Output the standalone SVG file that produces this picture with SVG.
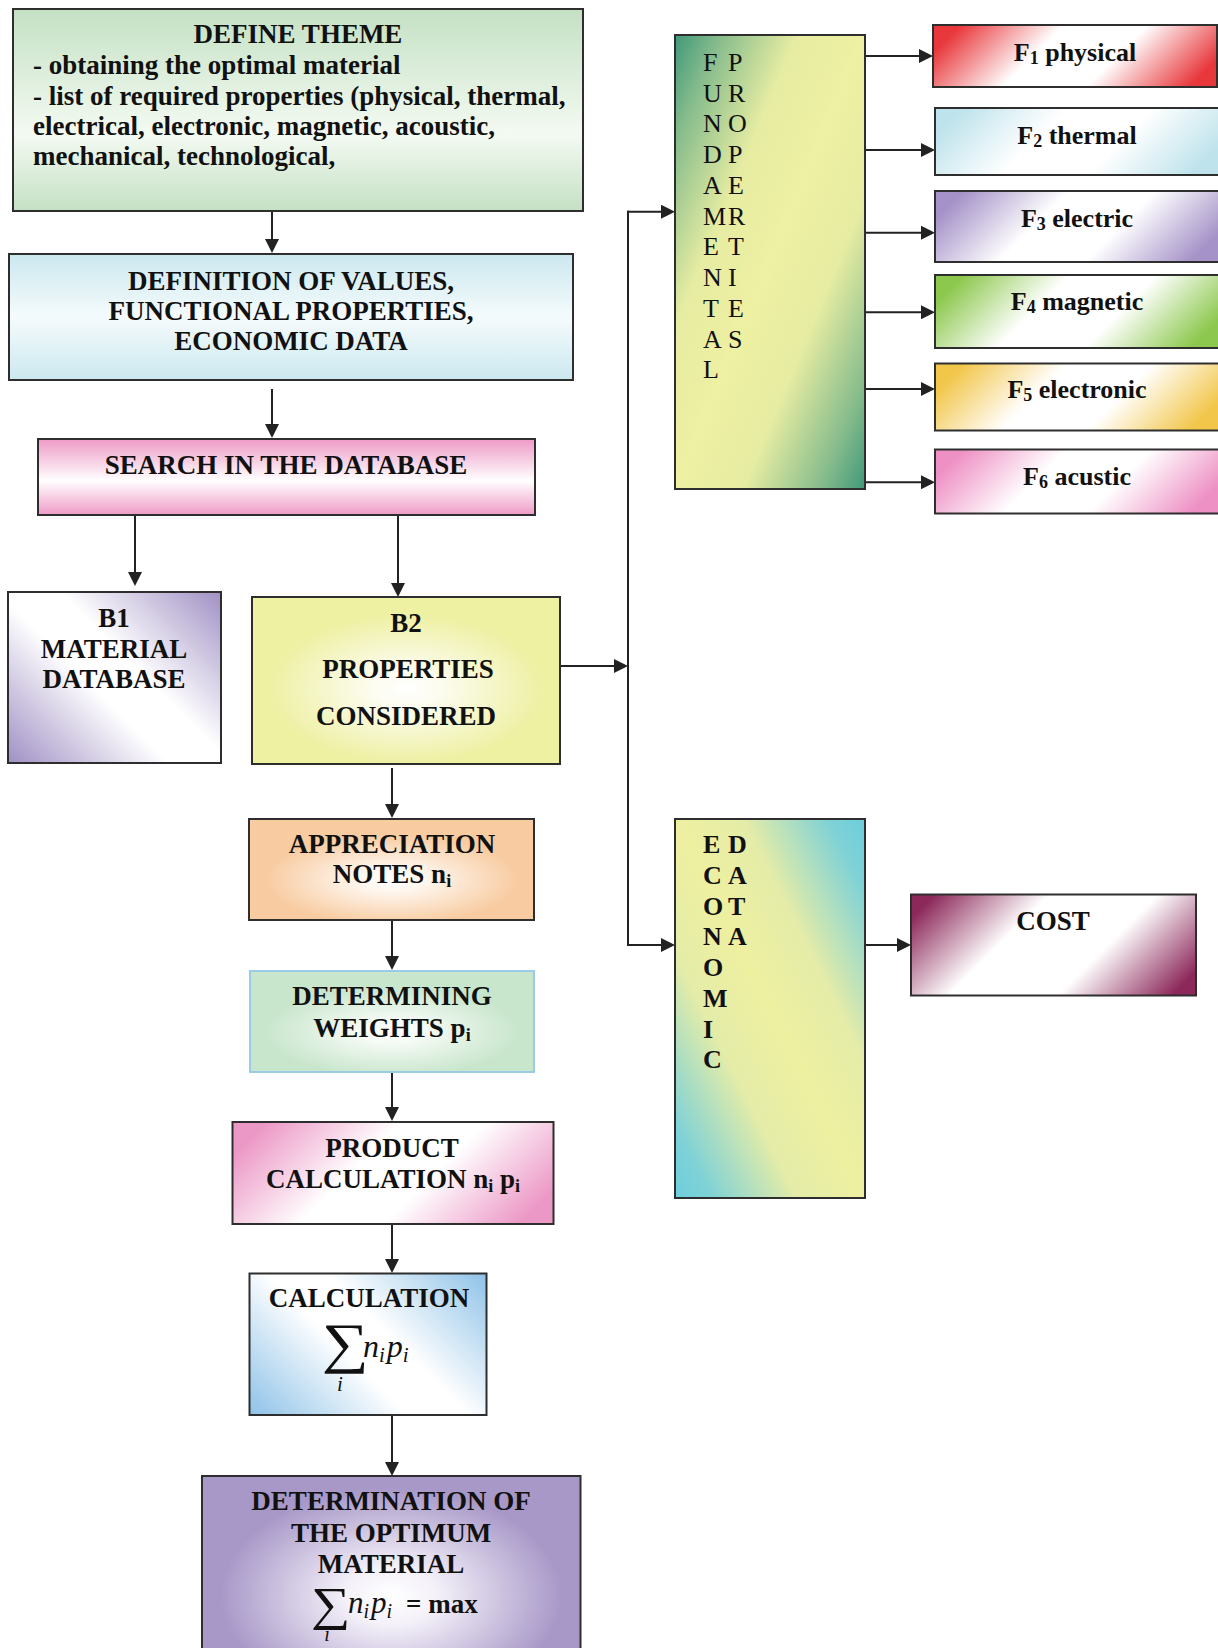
<svg xmlns="http://www.w3.org/2000/svg" width="1218" height="1648" viewBox="0 0 1218 1648">
<style>
.box{stroke:#2e2e2e;stroke-width:2}
.t{font-family:"Liberation Serif","Times New Roman",serif;font-weight:bold;font-size:27px;fill:#111}
.f26{font-size:26px}
.m{text-anchor:middle}
.r{font-weight:normal}
.it{font-family:"Liberation Serif","Times New Roman",serif;font-style:italic;font-weight:normal;fill:#111}
.sg{font-family:"Liberation Serif","DejaVu Serif",serif;font-weight:normal;fill:#111}
.sub{font-size:18px}
.conn path{stroke:#222;stroke-width:2;fill:none}
.arr{marker-end:url(#ah)}
</style>
<defs>
<marker id="ah" viewBox="0 0 14 14" refX="10" refY="7" markerWidth="14" markerHeight="14" markerUnits="userSpaceOnUse" orient="auto"><path d="M0,0 L14,7 L0,14 z" fill="#222"/></marker>
<linearGradient id="gDefine" x1="0" y1="0" x2="0" y2="1"><stop offset="0" stop-color="#c4e1c4"/><stop offset="0.62" stop-color="#f4faf2"/><stop offset="1" stop-color="#c4e1c4"/></linearGradient>
<linearGradient id="gValues" x1="0" y1="0" x2="0" y2="1"><stop offset="0" stop-color="#cbe8ef"/><stop offset="0.5" stop-color="#f5fbfc"/><stop offset="1" stop-color="#cbe8ef"/></linearGradient>
<linearGradient id="gSearch" x1="0" y1="0" x2="0" y2="1"><stop offset="0" stop-color="#ee9ac6"/><stop offset="0.55" stop-color="#ffffff"/><stop offset="1" stop-color="#ee9ac6"/></linearGradient>
<linearGradient id="gB1" gradientUnits="userSpaceOnUse" x1="221" y1="592" x2="29" y2="784"><stop offset="0" stop-color="#a090c4"/><stop offset="0.42" stop-color="#ffffff"/><stop offset="0.58" stop-color="#ffffff"/><stop offset="1" stop-color="#a090c4"/></linearGradient>
<radialGradient id="gB2" cx="0.5" cy="0.55" r="0.6"><stop offset="0" stop-color="#ffffff"/><stop offset="0.2" stop-color="#fcfcee"/><stop offset="0.75" stop-color="#eef0a2"/><stop offset="1" stop-color="#eef0a2"/></radialGradient>
<radialGradient id="gAppr" cx="0.5" cy="0.6" r="0.6"><stop offset="0" stop-color="#ffffff"/><stop offset="0.2" stop-color="#fef6ee"/><stop offset="0.75" stop-color="#f8cba0"/><stop offset="1" stop-color="#f8cba0"/></radialGradient>
<radialGradient id="gWeights" cx="0.5" cy="0.6" r="0.6"><stop offset="0" stop-color="#ffffff"/><stop offset="0.2" stop-color="#f4faf4"/><stop offset="0.75" stop-color="#c8e6cc"/><stop offset="1" stop-color="#c8e6cc"/></radialGradient>
<linearGradient id="gProd" gradientUnits="userSpaceOnUse" x1="232.5" y1="1122" x2="444" y2="1333.5"><stop offset="0" stop-color="#ec98c6"/><stop offset="0.08" stop-color="#ec98c6"/><stop offset="0.4" stop-color="#ffffff"/><stop offset="0.6" stop-color="#ffffff"/><stop offset="0.92" stop-color="#ec98c6"/><stop offset="1" stop-color="#ec98c6"/></linearGradient>
<linearGradient id="gCalc" gradientUnits="userSpaceOnUse" x1="486.5" y1="1273.5" x2="297.25" y2="1462.75"><stop offset="0" stop-color="#8ec2e8"/><stop offset="0.42" stop-color="#ffffff"/><stop offset="0.58" stop-color="#ffffff"/><stop offset="1" stop-color="#8ec2e8"/></linearGradient>
<radialGradient id="gOpt" cx="0.5" cy="0.5" r="0.6"><stop offset="0" stop-color="#ffffff"/><stop offset="0.2" stop-color="#f4f1f9"/><stop offset="0.75" stop-color="#a898c8"/><stop offset="1" stop-color="#a898c8"/></radialGradient>
<linearGradient id="gFund" x1="0" y1="0" x2="1" y2="1"><stop offset="0" stop-color="#40987a"/><stop offset="0.12" stop-color="#86bc8c"/><stop offset="0.32" stop-color="#e6eca2"/><stop offset="0.5" stop-color="#eef0a2"/><stop offset="0.68" stop-color="#e6eca2"/><stop offset="0.88" stop-color="#86bc8c"/><stop offset="1" stop-color="#40987a"/></linearGradient>
<linearGradient id="gEcon" x1="1" y1="0" x2="0" y2="1"><stop offset="0" stop-color="#6ccedc"/><stop offset="0.1" stop-color="#80d2d6"/><stop offset="0.32" stop-color="#e4eca8"/><stop offset="0.5" stop-color="#eef0a0"/><stop offset="0.68" stop-color="#e4eca8"/><stop offset="0.9" stop-color="#80d2d6"/><stop offset="1" stop-color="#6ccedc"/></linearGradient>
<linearGradient id="gF1" gradientUnits="userSpaceOnUse" x1="933" y1="25" x2="1106" y2="198"><stop offset="0" stop-color="#e8383c"/><stop offset="0.08" stop-color="#e8383c"/><stop offset="0.38" stop-color="#ffffff"/><stop offset="0.62" stop-color="#ffffff"/><stop offset="0.92" stop-color="#e8383c"/><stop offset="1" stop-color="#e8383c"/></linearGradient>
<linearGradient id="gF2" gradientUnits="userSpaceOnUse" x1="935" y1="108" x2="1110.5" y2="283.5"><stop offset="0" stop-color="#bfe3ec"/><stop offset="0.08" stop-color="#bfe3ec"/><stop offset="0.38" stop-color="#ffffff"/><stop offset="0.62" stop-color="#ffffff"/><stop offset="0.92" stop-color="#bfe3ec"/><stop offset="1" stop-color="#bfe3ec"/></linearGradient>
<linearGradient id="gF3" gradientUnits="userSpaceOnUse" x1="935" y1="191" x2="1112.5" y2="368.5"><stop offset="0" stop-color="#a592c8"/><stop offset="0.08" stop-color="#a592c8"/><stop offset="0.38" stop-color="#ffffff"/><stop offset="0.62" stop-color="#ffffff"/><stop offset="0.92" stop-color="#a592c8"/><stop offset="1" stop-color="#a592c8"/></linearGradient>
<linearGradient id="gF4" gradientUnits="userSpaceOnUse" x1="935" y1="275" x2="1113.5" y2="453.5"><stop offset="0" stop-color="#8dc84e"/><stop offset="0.08" stop-color="#8dc84e"/><stop offset="0.38" stop-color="#ffffff"/><stop offset="0.62" stop-color="#ffffff"/><stop offset="0.92" stop-color="#8dc84e"/><stop offset="1" stop-color="#8dc84e"/></linearGradient>
<linearGradient id="gF5" gradientUnits="userSpaceOnUse" x1="935" y1="363.5" x2="1110.5" y2="539"><stop offset="0" stop-color="#f2c64a"/><stop offset="0.08" stop-color="#f2c64a"/><stop offset="0.38" stop-color="#ffffff"/><stop offset="0.62" stop-color="#ffffff"/><stop offset="0.92" stop-color="#f2c64a"/><stop offset="1" stop-color="#f2c64a"/></linearGradient>
<linearGradient id="gF6" gradientUnits="userSpaceOnUse" x1="935" y1="449.5" x2="1109" y2="623.5"><stop offset="0" stop-color="#ee90c4"/><stop offset="0.08" stop-color="#ee90c4"/><stop offset="0.38" stop-color="#ffffff"/><stop offset="0.62" stop-color="#ffffff"/><stop offset="0.92" stop-color="#ee90c4"/><stop offset="1" stop-color="#ee90c4"/></linearGradient>
<linearGradient id="gCost" gradientUnits="userSpaceOnUse" x1="911" y1="894.5" x2="1104" y2="1087.5"><stop offset="0" stop-color="#8c285a"/><stop offset="0.06" stop-color="#8c285a"/><stop offset="0.36" stop-color="#ffffff"/><stop offset="0.64" stop-color="#ffffff"/><stop offset="0.94" stop-color="#8c285a"/><stop offset="1" stop-color="#8c285a"/></linearGradient>
</defs>

<g id="connectors" class="conn">
<path class="arr" d="M272,212 V249"/>
<path class="arr" d="M272,389 V434"/>
<path class="arr" d="M135,516 V582"/>
<path class="arr" d="M398,516 V593"/>
<path class="arr" d="M559,666 H624"/>
<path d="M628,210.7 V946"/>
<path class="arr" d="M627,211.7 H671"/>
<path class="arr" d="M627,945 H671"/>
<path class="arr" d="M866,56 H929"/>
<path class="arr" d="M866,150 H931"/>
<path class="arr" d="M866,232.7 H931"/>
<path class="arr" d="M866,312.3 H931"/>
<path class="arr" d="M866,389 H931"/>
<path class="arr" d="M866,482.3 H931"/>
<path class="arr" d="M866,945 H907"/>
<path class="arr" d="M392,768 V814"/>
<path class="arr" d="M392,921 V966"/>
<path class="arr" d="M392,1073 V1117"/>
<path class="arr" d="M392,1225 V1269"/>
<path class="arr" d="M392,1400 V1472"/>
</g>

<g id="define-theme">
<rect class="box" x="13" y="9" width="570" height="202" fill="url(#gDefine)"/>
<text class="t m" x="298" y="43">DEFINE THEME</text>
<text class="t" x="33" y="74">- obtaining the optimal material</text>
<text class="t" x="33" y="105">- list of required properties (physical, thermal,</text>
<text class="t" x="33" y="135">electrical, electronic, magnetic, acoustic,</text>
<text class="t" x="33" y="165">mechanical, technological,</text>
</g>

<g id="definition-values">
<rect class="box" x="9" y="254" width="564" height="126" fill="url(#gValues)"/>
<text class="t m" x="291" y="290">DEFINITION OF VALUES,</text>
<text class="t m" x="291" y="320">FUNCTIONAL PROPERTIES,</text>
<text class="t m" x="291" y="350">ECONOMIC DATA</text>
</g>

<g id="search-database">
<rect class="box" x="38" y="439" width="497" height="76" fill="url(#gSearch)"/>
<text class="t m" x="286" y="474">SEARCH IN THE DATABASE</text>
</g>

<g id="b1-material-database">
<rect class="box" x="8" y="592" width="213" height="171" fill="url(#gB1)"/>
<text class="t m" x="114" y="627">B1</text>
<text class="t m" x="114" y="658">MATERIAL</text>
<text class="t m" x="114" y="688">DATABASE</text>
</g>

<g id="b2-properties-considered">
<rect class="box" x="252" y="597" width="308" height="167" fill="url(#gB2)"/>
<text class="t m" x="406" y="632">B2</text>
<text class="t m" x="408" y="678">PROPERTIES</text>
<text class="t m" x="406" y="725">CONSIDERED</text>
</g>

<g id="fundamental-properties">
<rect class="box" x="675" y="35" width="190" height="454" fill="url(#gFund)"/>
<text class="t r f26" x="703"><tspan x="703" y="70.7">F</tspan><tspan x="703" y="101.5">U</tspan><tspan x="703" y="132.2">N</tspan><tspan x="703" y="163">D</tspan><tspan x="703" y="193.7">A</tspan><tspan x="703" y="224.5">M</tspan><tspan x="703" y="255.2">E</tspan><tspan x="703" y="286">N</tspan><tspan x="703" y="316.7">T</tspan><tspan x="703" y="347.5">A</tspan><tspan x="703" y="378.2">L</tspan></text>
<text class="t r f26" x="728"><tspan x="728" y="70.7">P</tspan><tspan x="728" y="101.5">R</tspan><tspan x="728" y="132.2">O</tspan><tspan x="728" y="163">P</tspan><tspan x="728" y="193.7">E</tspan><tspan x="728" y="224.5">R</tspan><tspan x="728" y="255.2">T</tspan><tspan x="728" y="286">I</tspan><tspan x="728" y="316.7">E</tspan><tspan x="728" y="347.5">S</tspan></text>
</g>

<g id="f1-physical">
<rect class="box" x="933" y="25" width="284" height="62" fill="url(#gF1)"/>
<text class="t m f26" x="1075" y="61">F<tspan class="sub" dy="3">1</tspan><tspan dy="-3"> physical</tspan></text>
</g>
<g id="f2-thermal">
<rect class="box" x="935" y="108" width="290" height="67" fill="url(#gF2)"/>
<text class="t m f26" x="1077" y="144">F<tspan class="sub" dy="3">2</tspan><tspan dy="-3"> thermal</tspan></text>
</g>
<g id="f3-electric">
<rect class="box" x="935" y="191" width="290" height="71" fill="url(#gF3)"/>
<text class="t m f26" x="1077" y="227">F<tspan class="sub" dy="3">3</tspan><tspan dy="-3"> electric</tspan></text>
</g>
<g id="f4-magnetic">
<rect class="box" x="935" y="275" width="290" height="73" fill="url(#gF4)"/>
<text class="t m f26" x="1077" y="310">F<tspan class="sub" dy="3">4</tspan><tspan dy="-3"> magnetic</tspan></text>
</g>
<g id="f5-electronic">
<rect class="box" x="935" y="363.5" width="290" height="67" fill="url(#gF5)"/>
<text class="t m f26" x="1077" y="398">F<tspan class="sub" dy="3">5</tspan><tspan dy="-3"> electronic</tspan></text>
</g>
<g id="f6-acustic">
<rect class="box" x="935" y="449.5" width="290" height="64" fill="url(#gF6)"/>
<text class="t m f26" x="1077" y="485">F<tspan class="sub" dy="3">6</tspan><tspan dy="-3"> acustic</tspan></text>
</g>

<g id="economic-data">
<rect class="box" x="675" y="819" width="190" height="379" fill="url(#gEcon)"/>
<text class="t f26" x="703"><tspan x="703" y="853.3">E</tspan><tspan x="703" y="884">C</tspan><tspan x="703" y="914.7">O</tspan><tspan x="703" y="945.4">N</tspan><tspan x="703" y="976.1">O</tspan><tspan x="703" y="1006.8">M</tspan><tspan x="703" y="1037.5">I</tspan><tspan x="703" y="1068.2">C</tspan></text>
<text class="t f26" x="728"><tspan x="728" y="853.3">D</tspan><tspan x="728" y="884">A</tspan><tspan x="728" y="914.7">T</tspan><tspan x="728" y="945.4">A</tspan></text>
</g>

<g id="cost">
<rect class="box" x="911" y="894.5" width="285" height="101" fill="url(#gCost)"/>
<text class="t m" x="1053" y="930">COST</text>
</g>

<g id="appreciation-notes">
<rect class="box" x="249" y="819" width="285" height="101" fill="url(#gAppr)"/>
<text class="t m" x="392" y="853">APPRECIATION</text>
<text class="t m" x="392" y="883">NOTES n<tspan class="sub" dy="4">i</tspan></text>
</g>

<g id="determining-weights">
<rect x="250" y="971" width="284" height="101" fill="url(#gWeights)" stroke="#9ccbe8" stroke-width="2"/>
<text class="t m" x="392" y="1005">DETERMINING</text>
<text class="t m" x="392" y="1037">WEIGHTS p<tspan class="sub" dy="4">i</tspan></text>
</g>

<g id="product-calculation">
<rect class="box" x="232.5" y="1122" width="321" height="102" fill="url(#gProd)"/>
<text class="t m" x="392" y="1157">PRODUCT</text>
<text class="t m" x="393" y="1188">CALCULATION n<tspan class="sub" dy="4">i</tspan><tspan dy="-4"> p</tspan><tspan class="sub" dy="4">i</tspan></text>
</g>

<g id="calculation-sum">
<rect class="box" x="249.5" y="1273.5" width="237" height="141.5" fill="url(#gCalc)"/>
<text class="t m" x="369" y="1307">CALCULATION</text>
<text class="sg" transform="translate(322,1362) scale(1.22,1.03)" font-size="54">∑</text>
<text class="it" x="363" y="1357" font-size="32">n<tspan font-size="21" dy="5">i</tspan><tspan dy="-5" dx="2">p</tspan><tspan font-size="21" dy="5">i</tspan></text>
<text class="it m" x="340" y="1391" font-size="21">i</text>
</g>

<g id="optimum-material">
<rect class="box" x="202" y="1476" width="378.5" height="240" fill="url(#gOpt)"/>
<text class="t m" x="391" y="1510">DETERMINATION OF</text>
<text class="t m" x="391" y="1542">THE OPTIMUM</text>
<text class="t m" x="391" y="1573">MATERIAL</text>
<text class="sg" transform="translate(311,1620) scale(1.2,1.02)" font-size="46">∑</text>
<text class="it" x="348" y="1613" font-size="31">n<tspan font-size="20" dy="5">i</tspan><tspan dy="-5" dx="2">p</tspan><tspan font-size="20" dy="5">i</tspan></text>
<text class="t" x="406" y="1613">= max</text>
<text class="it m" x="327" y="1641" font-size="20">i</text>
</g>
</svg>
